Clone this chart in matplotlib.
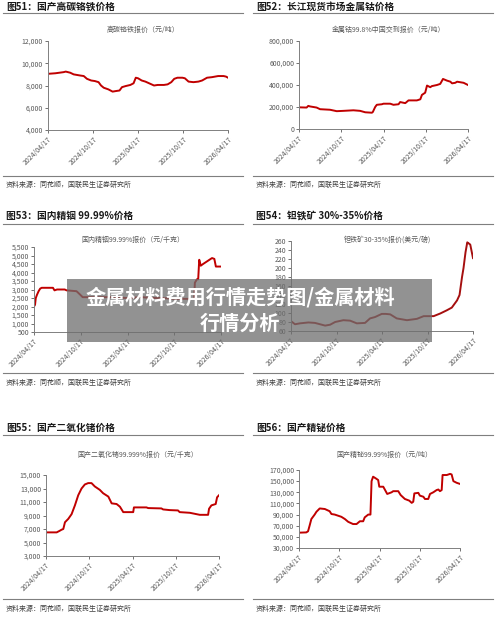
import matplotlib
matplotlib.use("Agg")
import matplotlib.pyplot as plt
import matplotlib.dates as mdates
from matplotlib.ticker import FuncFormatter
from matplotlib.patches import Rectangle
import numpy as np
import pandas as pd

plt.rcParams['font.family'] = ['Noto Sans CJK SC', 'DejaVu Sans']
plt.rcParams['axes.unicode_minus'] = False

START = pd.Timestamp('2024-04-17')
tick_dates = ['2024-04-17', '2024-10-17', '2025-04-17', '2025-10-17', '2026-04-17']

# 图51 高碳铬铁 (元/吨)
crfe_days = [0, 30, 63, 72, 90, 104, 130, 145, 158, 175, 190, 205, 215, 226, 245, 262, 275, 290,
             300, 315, 334, 347, 356, 365, 380, 395, 415, 430, 445, 470, 485, 500, 512, 525,
             545, 555, 570, 590, 610, 625, 645, 665, 690, 712, 722, 730]
crfe_vals = [9050, 9100, 9200, 9250, 9150, 9000, 8900, 8850, 8600, 8450, 8400, 8300, 8000, 7800,
             7650, 7450, 7500, 7550, 7850, 7950, 8050, 8200, 8700, 8650, 8450, 8350, 8150, 8000,
             8050, 8050, 8100, 8300, 8600, 8700, 8700, 8650, 8350, 8300, 8350, 8450, 8700, 8750,
             8850, 8850, 8800, 8700]

# 图52 金属钴 (元/吨)
co_days = [0, 33, 40, 48, 76, 91, 134, 163, 192, 235, 264, 286, 315, 319, 329, 336, 358, 365,
           394, 408, 430, 437, 459, 473, 509, 524, 531, 545, 553, 567, 574, 596, 610, 622, 639,
           654, 661, 675, 683, 697, 711, 730]
co_vals = [197000, 195000, 210000, 205000, 195000, 180000, 175000, 162000, 165000, 170000,
           165000, 152000, 148000, 155000, 200000, 220000, 225000, 230000, 230000, 220000,
           225000, 245000, 235000, 260000, 260000, 270000, 310000, 330000, 395000, 380000,
           390000, 400000, 410000, 455000, 440000, 430000, 415000, 420000, 430000, 425000,
           420000, 400000]

# 图53 精铟 (元/千克)
in_days = [0, 4, 7, 12, 18, 24, 30, 74, 80, 90, 120, 127, 166, 180, 190, 230, 300, 360, 420,
           460, 500, 545, 600, 625, 628, 636, 641, 645, 651, 660, 670, 680, 695, 704, 710, 730]
in_vals = [2000, 2100, 2500, 2700, 2900, 3050, 3100, 3100, 2950, 3000, 3000, 2950, 2900, 2700,
           2550, 2550, 2550, 2500, 2550, 2500, 2500, 2450, 2450, 2450, 3400, 3600, 3600, 4750,
           4400, 4500, 4600, 4700, 4850, 4800, 4350, 4350]

# 图54 钽铁矿 (美元/磅)
ta_days = [0, 16, 36, 70, 96, 137, 157, 177, 210, 237, 264, 297, 317, 337, 364, 380, 398, 424,
           465, 505, 532, 572, 599, 625, 645, 666, 676, 686, 692, 700, 707, 712, 719, 730]
ta_vals = [82, 75, 77, 79, 78, 72, 74, 80, 84, 83, 77, 78, 88, 91, 98, 98, 97, 88, 84, 87, 93,
           93, 99, 106, 112, 128, 140, 180, 200, 235, 257, 255, 252, 222]

# 图55 二氧化锗 (元/千克)
ge_days = [0, 45, 56, 66, 73, 80, 94, 108, 122, 136, 150, 164, 178, 192, 206, 227, 241, 263,
           277, 298, 312, 326, 368, 371, 424, 431, 487, 494, 522, 557, 564, 607, 635, 649, 684,
           688, 698, 716, 722, 730]
ge_vals = [6500, 6500, 6700, 6900, 7000, 8000, 8500, 9200, 10500, 12000, 13000, 13600, 13800,
           13800, 13300, 12800, 12300, 11800, 10800, 10700, 10300, 9500, 9500, 10200, 10200,
           10100, 10050, 9900, 9800, 9750, 9500, 9400, 9200, 9100, 9100, 10000, 10500, 10700,
           11700, 12000]

# 图56 精铋 (元/吨)
bi_days = [0, 33, 41, 48, 56, 71, 79, 94, 117, 139, 147, 162, 177, 192, 208, 223, 245, 261,
           276, 291, 298, 314, 324, 329, 336, 348, 359, 364, 382, 389, 400, 420, 427, 450, 461,
           480, 500, 511, 518, 523, 541, 548, 564, 571, 586, 594, 609, 624, 632, 639, 647, 651,
           670, 685, 692, 700, 715, 730]
bi_vals = [57500, 58000, 60000, 70000, 82000, 90000, 95000, 101000, 100000, 96000, 91000, 90000,
           88000, 86000, 82000, 77000, 73000, 73000, 78000, 78000, 85000, 90000, 90000, 150000,
           158000, 155000, 152000, 140000, 140000, 135000, 127000, 130000, 132000, 132000,
           125000, 118000, 115000, 111000, 113000, 128000, 129000, 124000, 122000, 118000,
           118000, 127000, 130000, 134000, 135000, 132000, 134000, 161000, 161000, 163000,
           162000, 150000, 147000, 145000]

panels = [
    # header, chart title, days, vals, ylim, ystep, axes rect (px: left, top, right, bottom), col
    ('图51：国产高碳铬铁价格', '高碳铬铁报价（元/吨）', crfe_days, crfe_vals, (4000, 12000), 2000,
     (48, 41, 228, 130), 0),
    ('图52：长江现货市场金属钴价格', '金属钴99.8%中国交到报价（元/吨）', co_days, co_vals,
     (0, 800000), 200000, (299, 41, 468, 129), 1),
    ('图53：国内精铟 99.99%价格', '国内精铟99.99%报价（元/千克）', in_days, in_vals,
     (500, 5500), 500, (34, 247, 221, 332), 0),
    ('图54：钽铁矿 30%-35%价格', '钽铁矿30-35%报价(美元/磅)', ta_days, ta_vals,
     (60, 260), 20, (291, 241, 473, 331), 1),
    ('图55：国产二氧化锗价格', '国产二氧化锗99.999%报价（元/千克）', ge_days, ge_vals,
     (3000, 15000), 2000, (46, 475, 219, 556), 0),
    ('图56：国产精铋价格', '国产精铋99.99%报价（元/吨）', bi_days, bi_vals,
     (30000, 170000), 20000, (299, 470, 460, 548), 1),
]
# header y, rule y, chart title y, bottom rule y, source y (px) per row
rows = [(6.5, 13, 30, 176, 185), (216, 224, 240, 373, 383), (428, 435, 455, 599, 609)]

W, H = 500, 622
fig = plt.figure(figsize=(5, 6.22), dpi=100)
fig.patch.set_facecolor('white')

def fx(x):
    return x / W

def fy(y):
    return 1 - y / H

for i, (head, title, days, vals, ylim, ystep, rect, col) in enumerate(panels):
    row = rows[i // 2]
    l, t, r, b = rect
    ax = fig.add_axes([fx(l), fy(b), fx(r - l), (b - t) / H])
    dates = START + pd.to_timedelta(days, unit='D')
    ax.plot(dates, vals, color='#C00000' if i != 3 else '#A50F0F', linewidth=1.4)
    ax.set_ylim(*ylim)
    ax.set_xlim(START, pd.Timestamp('2026-04-17'))
    ax.set_yticks(np.arange(ylim[0], ylim[1] + ystep / 2, ystep))
    ax.yaxis.set_major_formatter(FuncFormatter(lambda v, p: f'{int(v):,}'))
    ax.set_xticks(pd.to_datetime(tick_dates))
    ax.xaxis.set_major_formatter(mdates.DateFormatter('%Y/%m/%d'))
    for lab in ax.get_xticklabels():
        lab.set_rotation(45)
        lab.set_ha('right')
        lab.set_rotation_mode('anchor')
    ax.tick_params(axis='both', labelsize=5, colors='#595959', length=2, width=0.6, pad=1.5)
    for s in ['top', 'right']:
        ax.spines[s].set_visible(False)
    for s in ['left', 'bottom']:
        ax.spines[s].set_color('#808080')
        ax.spines[s].set_linewidth(0.7)

    x0 = 3 if col == 0 else 253
    x1 = 243 if col == 0 else 493
    cx = (l + r) / 2 + 5
    fig.text(fx(x0 + 3), fy(row[0]), head, fontsize=7, fontweight='bold', color='#1a1a1a',
             va='center', ha='left')
    fig.add_artist(plt.Line2D([fx(x0), fx(x1)], [fy(row[1]), fy(row[1])], color='#7f7f7f',
                              linewidth=0.8))
    fig.text(fx(cx), fy(row[2]), title, fontsize=5, color='#595959', va='center', ha='center')
    fig.add_artist(plt.Line2D([fx(x0), fx(x1)], [fy(row[3]), fy(row[3])], color='#7f7f7f',
                              linewidth=0.8))
    fig.text(fx(x0 + 3), fy(row[4]), '资料来源：同花顺，国联民生证券研究所', fontsize=5,
             color='#404040', va='center', ha='left')

# 灰色横幅
fig.add_artist(Rectangle((fx(67), fy(342)), fx(432 - 67), (342 - 279) / H,
                         transform=fig.transFigure, facecolor='#6e6e6e', alpha=0.75,
                         edgecolor='none', zorder=10))
fig.text(fx(240), fy(297), '金属材料费用行情走势图/金属材料', fontsize=14.5, fontweight='bold',
         color='white', ha='center', va='center', zorder=11)
fig.text(fx(240), fy(323), '行情分析', fontsize=14.5, fontweight='bold',
         color='white', ha='center', va='center', zorder=11)

fig.savefig('out.png', dpi=100)
